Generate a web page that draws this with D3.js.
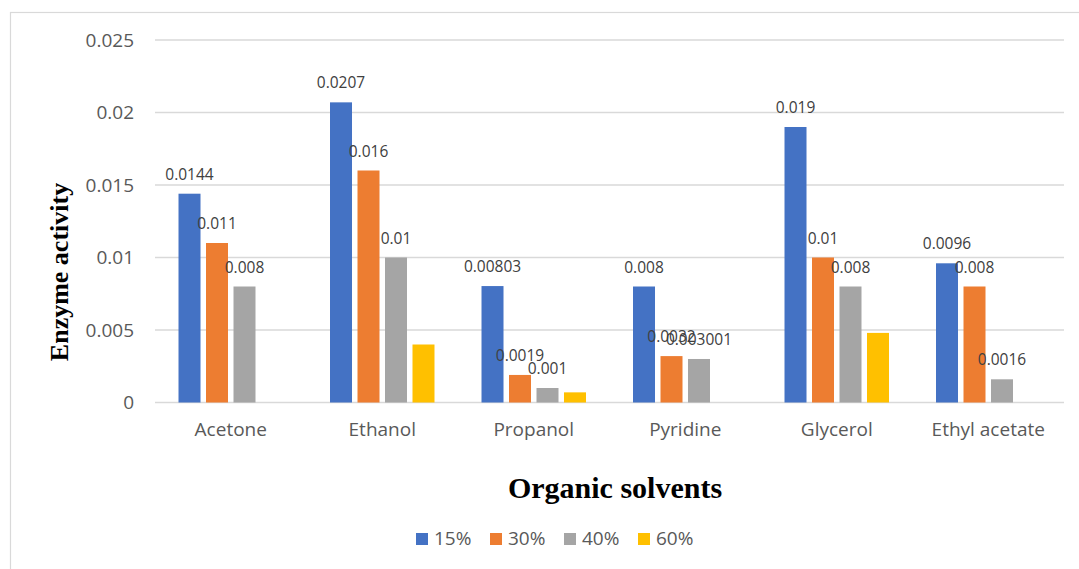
<!DOCTYPE html>
<html>
<head>
<meta charset="utf-8">
<script src="https://cdn.jsdelivr.net/npm/d3@7"></script>
<style>
  html, body { margin: 0; padding: 0; background: #fff; }
  svg { display: block; }
</style>
</head>
<body>
<svg id="chart" width="1079" height="569"></svg>
<script>
// Enzyme activity by organic solvent and concentration
const categories = ["Acetone", "Ethanol", "Propanol", "Pyridine", "Glycerol", "Ethyl acetate"];
const seriesNames = ["15%", "30%", "40%", "60%"];
const values15 = [0.0144, 0.0207, 0.00803, 0.008, 0.019, 0.0096];
const values30 = [0.011, 0.016, 0.0019, 0.0032, 0.01, 0.008];
const values40 = [0.008, 0.01, 0.001, 0.003001, 0.008, 0.0016];
const values60 = [null, 0.004, 0.0007, null, 0.0048, null];
const yTicks = [0, 0.005, 0.01, 0.015, 0.02, 0.025];
const yTickLabels = ["0", "0.005", "0.01", "0.015", "0.02", "0.025"];
const showLabels = [true, true, true, false];
const colors = ["#4472C4", "#ED7D31", "#A5A5A5", "#FFC000"];

const seriesValues = [values15, values30, values40, values60];

const svg = d3.select("#chart");
const sans = "'Open Sans', 'Noto Sans', sans-serif";
const serif = "'Liberation Serif', 'DejaVu Serif', serif";

// outer chart frame
svg.append("rect")
  .attr("x", 10.5).attr("y", 12.5)
  .attr("width", 1200).attr("height", 700)
  .attr("fill", "#fff").attr("stroke", "#d9d9d9").attr("stroke-width", 1.2);

const plot = { left: 155, right: 1064, top: 40, bottom: 402.5 };

const x0 = d3.scaleBand()
  .domain(categories)
  .range([plot.left, plot.right])
  .paddingInner(0.274)
  .paddingOuter(0.137);

const x1 = d3.scaleBand()
  .domain(seriesNames)
  .range([0, x0.bandwidth()])
  .paddingInner(0.2)
  .paddingOuter(0.1);

const y = d3.scaleLinear()
  .domain([0, 0.025])
  .range([plot.bottom, plot.top]);

// horizontal gridlines
svg.append("g")
  .selectAll("line")
  .data(yTicks)
  .join("line")
  .attr("x1", plot.left).attr("x2", plot.right)
  .attr("y1", d => y(d)).attr("y2", d => y(d))
  .attr("stroke", "#d9d9d9").attr("stroke-width", 1.3);

// y axis tick labels
const yAxis = d3.axisLeft(y)
  .tickValues(yTicks)
  .tickFormat((d, i) => yTickLabels[i])
  .tickSize(0)
  .tickPadding(21);
const gy = svg.append("g")
  .attr("transform", `translate(${plot.left},0)`)
  .call(yAxis);
gy.select(".domain").remove();
gy.selectAll("text")
  .attr("fill", "#595959")
  .style("font-family", sans)
  .style("font-size", "19px");

// x axis category labels
const xAxis = d3.axisBottom(x0).tickSize(0).tickPadding(20);
const gx = svg.append("g")
  .attr("transform", `translate(0,${plot.bottom})`)
  .call(xAxis);
gx.select(".domain").remove();
gx.selectAll("text")
  .attr("fill", "#595959")
  .style("font-family", sans)
  .style("font-size", "19px");

// bars
const rows = [];
seriesNames.forEach((s, si) => {
  categories.forEach((c, ci) => {
    const v = seriesValues[si][ci];
    if (v !== null) rows.push({ s, si, c, v });
  });
});

svg.append("g")
  .selectAll("rect")
  .data(rows)
  .join("rect")
  .attr("x", d => x0(d.c) + x1(d.s))
  .attr("y", d => y(d.v))
  .attr("width", x1.bandwidth())
  .attr("height", d => y(0) - y(d.v))
  .attr("fill", d => colors[d.si]);

// value labels
svg.append("g")
  .selectAll("text")
  .data(rows.filter(d => showLabels[d.si]))
  .join("text")
  .attr("x", d => x0(d.c) + x1(d.s) + x1.bandwidth() / 2)
  .attr("y", d => y(d.v) - 14)
  .attr("text-anchor", "middle")
  .attr("fill", "#404040")
  .style("font-family", sans)
  .style("font-size", "15.5px")
  .text(d => String(d.v));

// axis titles
svg.append("text")
  .attr("transform", "translate(68,272) rotate(-90)")
  .attr("text-anchor", "middle")
  .attr("fill", "#000")
  .style("font-family", serif)
  .style("font-weight", "bold")
  .style("font-size", "26px")
  .text("Enzyme activity");

svg.append("text")
  .attr("x", 615).attr("y", 498)
  .attr("text-anchor", "middle")
  .attr("fill", "#000")
  .style("font-family", serif)
  .style("font-weight", "bold")
  .style("font-size", "30px")
  .text("Organic solvents");

// legend
const legend = svg.append("g")
  .selectAll("g")
  .data(seriesNames)
  .join("g")
  .attr("transform", (d, i) => `translate(${416 + i * 74},533)`);
legend.append("rect")
  .attr("width", 12).attr("height", 12)
  .attr("fill", (d, i) => colors[i]);
legend.append("text")
  .attr("x", 18).attr("y", 12)
  .attr("fill", "#595959")
  .style("font-family", sans)
  .style("font-size", "19px")
  .text(d => d);
</script>
</body>
</html>
